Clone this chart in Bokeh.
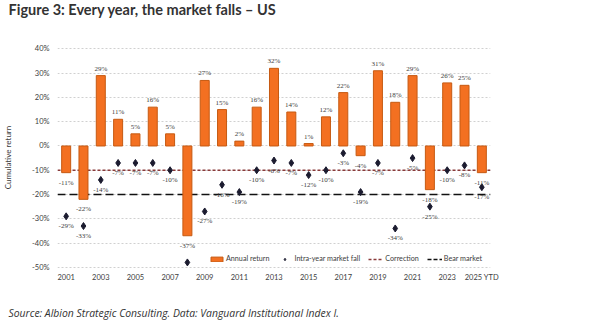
import numpy as np
from bokeh.plotting import figure
from bokeh.layouts import column
from bokeh.models import (ColumnDataSource, Span, LabelSet, Label, Legend, LegendItem,
                          FixedTicker, PrintfTickFormatter, Range1d)
from bokeh.embed import file_html
from bokeh.resources import INLINE

years = ["2001", "2002", "2003", "2004", "2005", "2006", "2007", "2008", "2009", "2010",
         "2011", "2012", "2013", "2014", "2015", "2016", "2017", "2018", "2019", "2020",
         "2021", "2022", "2023", "2024", "2025 YTD"]
annual_return = [-11, -22, 29, 11, 5, 16, 5, -37, 27, 15, 2, 16, 32, 14, 1, 12, 22, -4,
                 31, 18, 29, -18, 26, 25, -11]
intra_year_fall = [-29, -33, -14, -7, -7, -7, -10, -48, -27, -16, -19, -10, -6, -7, -12,
                   -10, -3, -19, -7, -34, -5, -25, -10, -8, -17]
correction_level = -10
bear_level = -20
y_ticks = [-50, -40, -30, -20, -10, 0, 10, 20, 30, 40]

TITLE = "Figure 3: Every year, the market falls \u2013 US"
SOURCE = "Source: Albion Strategic Consulting. Data: Vanguard Institutional Index I."

FONT = "Lato"
TXT = "#404040"
ORANGE = "#F37021"
ORANGE_EDGE = "#C65A12"
NAVY = "#1B1B2F"
CORR = "#8A3B3B"
BEAR = "#111111"
W = 607
TITLE_H = 20
SOURCE_H = 34
MAIN_H = 330 - TITLE_H - SOURCE_H


def text_strip(height, text, font, style, size, y):
    f = figure(width=W, height=height, x_range=Range1d(0, W), y_range=Range1d(0, height),
               output_backend="svg", toolbar_location=None, min_border=0,
               frame_align=False)
    f.axis.visible = False
    f.grid.visible = False
    f.outline_line_color = None
    f.add_layout(Label(x=8, y=y, text=text, text_font=font, text_font_style=style,
                       text_font_size=size, text_color="#333333", text_baseline="middle"))
    return f


idx = np.arange(len(years))

src_bar = ColumnDataSource(dict(
    x=idx, top=annual_return,
    label=[f"{v}%" for v in annual_return],
    base=["bottom" if v >= 0 else "top" for v in annual_return],
    yoff=[3 if v >= 0 else -6 for v in annual_return],
))
src_dot = ColumnDataSource(dict(
    x=idx, y=intra_year_fall,
    label=[f"{v}%" for v in intra_year_fall],
))
src_none = ColumnDataSource(dict(x=idx, y=np.full(len(idx), np.nan)))

p = figure(width=W, height=MAIN_H,
           x_range=Range1d(-0.5, len(years) - 0.5),
           y_range=Range1d(-50.5, 41),
           output_backend="svg", toolbar_location=None,
           min_border_left=56, min_border_right=117,
           min_border_top=26, min_border_bottom=28, frame_align=False)
p.outline_line_color = None
p.background_fill_color = "white"
p.border_fill_color = "white"

# grid
p.xgrid.visible = False
p.ygrid.ticker = FixedTicker(ticks=y_ticks)
p.ygrid.grid_line_color = "#D0D0D0"
p.ygrid.grid_line_dash = "2 2"
p.ygrid.grid_line_width = 1

# reference lines
p.add_layout(Span(location=correction_level, dimension="width", line_color=CORR,
                  line_dash="3 2", line_width=1.5, level="underlay"))
p.add_layout(Span(location=bear_level, dimension="width", line_color=BEAR,
                  line_dash="8 4", line_width=1.5, level="underlay"))

bars = p.vbar(x="x", top="top", bottom=0, width=0.52, source=src_bar,
              fill_color=ORANGE, line_color=ORANGE_EDGE, line_width=1)
dots = p.scatter(x="x", y="y", source=src_dot, marker="diamond", size=7,
                 fill_color=NAVY, line_color=NAVY, line_width=1)
corr_leg = p.line(x="x", y="y", source=src_none, line_color=CORR, line_dash="3 2", line_width=1.5)
bear_leg = p.line(x="x", y="y", source=src_none, line_color=BEAR, line_dash="4 2", line_width=1.5)

bar_labels = LabelSet(x="x", y="top", text="label", source=src_bar,
                      text_align="center", text_baseline="base", y_offset="yoff",
                      text_font=FONT, text_font_size="7px", text_color=TXT)
dot_labels = LabelSet(x="x", y="y", text="label", source=src_dot,
                      text_align="center", text_baseline="top", y_offset=-6,
                      text_font=FONT, text_font_size="7px", text_color=TXT)
p.add_layout(bar_labels)
p.add_layout(dot_labels)

# axes
p.yaxis.ticker = FixedTicker(ticks=y_ticks)
p.yaxis.formatter = PrintfTickFormatter(format="%d%%")
p.yaxis.axis_label = "Cumulative return"
p.yaxis.axis_label_text_font = FONT
p.yaxis.axis_label_text_font_style = "normal"
p.yaxis.axis_label_text_font_size = "8px"
p.yaxis.axis_label_text_color = TXT
p.yaxis.axis_label_standoff = 16
p.xaxis.ticker = FixedTicker(ticks=[int(i) for i in idx[::2]])
p.xaxis.major_label_overrides = {int(i): years[i] for i in idx[::2]}
for ax in (p.xaxis[0], p.yaxis[0]):
    ax.axis_line_color = None
    ax.major_tick_line_color = None
    ax.minor_tick_line_color = None
    ax.major_tick_out = 0
    ax.major_tick_in = 0
    ax.minor_tick_out = 0
    ax.major_label_text_font = FONT
    ax.major_label_text_font_size = "7.5px"
    ax.major_label_text_color = TXT
p.yaxis.major_label_standoff = 8
p.xaxis.major_label_standoff = 4

legend = Legend(items=[
    LegendItem(label="Annual return", renderers=[bars]),
    LegendItem(label="Intra-year market fall", renderers=[dots]),
    LegendItem(label="Correction", renderers=[corr_leg]),
    LegendItem(label="Bear market", renderers=[bear_leg]),
], orientation="horizontal", location=(152, 5))
legend.label_text_font = FONT
legend.label_text_font_size = "7.2px"
legend.label_text_color = TXT
legend.glyph_width = 15
legend.glyph_height = 6
legend.label_height = 6
legend.label_standoff = 2
legend.spacing = 8
legend.padding = 0
legend.margin = 0
legend.border_line_color = None
legend.background_fill_alpha = 0
p.add_layout(legend)

title_fig = text_strip(TITLE_H, TITLE, FONT, "bold", "14.5px", 11)
source_fig = text_strip(SOURCE_H, SOURCE, "Open Sans", "italic", "10.4px", 18)

layout = column(title_fig, p, source_fig, spacing=0)

open("out.html", "w").write(file_html(layout, INLINE))
